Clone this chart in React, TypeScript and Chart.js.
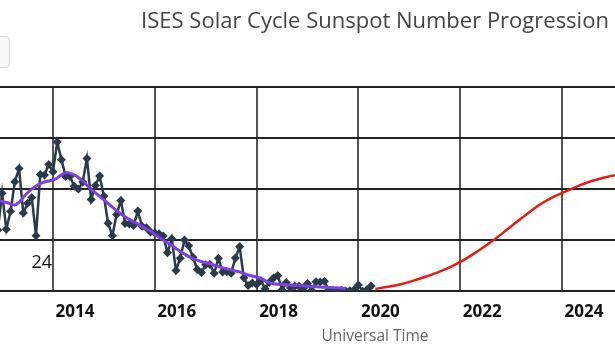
import React, { useEffect, useRef } from "react";
import { Chart, registerables } from "chart.js";

Chart.register(...registerables);

const TITLE = "ISES Solar Cycle Sunspot Number Progression";
const X_TITLE = "Universal Time";
const CYCLE_LABEL = "24";
const CYCLE_LABEL_AT = { x: 2014, y: 28 };

const tickYears = [2014, 2016, 2018, 2020, 2022, 2024, 2026];
const yTicks = { min: 0, max: 200, step: 50 };
const xRange = { min: 2012.959, max: 2027.694 };

// Monthly observed sunspot number, starting Dec 2012
const observedStart = { year: 2012, month: 11 };
const observedSSN = [
  60,
  96.1, 60.9, 78.3, 107.3, 120.2, 76.7, 86.2, 91.8, 54.5, 114.4, 113.9, 124.2,
  117.0, 146.1, 128.7, 112.5, 112.5, 102.9, 100.2, 106.9, 130.0, 90.0, 103.6, 112.9,
  93.0, 66.7, 54.5, 75.3, 88.8, 66.5, 65.8, 64.4, 78.6, 63.6, 62.2, 58.0,
  57.0, 56.4, 54.1, 37.9, 51.5, 20.5, 32.4, 50.2, 44.6, 33.4, 21.4, 18.5,
  26.1, 26.4, 17.7, 32.3, 18.9, 19.2, 17.8, 32.6, 43.6, 13.2, 5.7, 8.2,
  6.8, 10.7, 2.5, 8.9, 13.1, 15.6, 1.6, 8.7, 3.3, 4.9, 4.9, 3.1,
  7.7, 0.8, 9.4, 9.1, 9.9, 1.2, 0.9, 0.5, 1.1, 0.4, 0.5, 1.5,
  6.2, 0.2, 1.5, 5.2,
];

// Monthly smoothed sunspot number, starting Dec 2012
const smoothedStart = { year: 2012, month: 11 };
const smoothedSSN = [
  89,
  88, 87, 85.5, 84.5, 87, 92, 96.5, 100, 103, 105.5, 107, 108,
  109, 111, 114, 116.4, 115.5, 114, 111.5, 108, 104, 100, 96.5, 93,
  89.5, 86, 82.5, 79, 76, 73, 70.5, 68, 66, 63.5, 61, 59,
  56, 53, 50, 47.5, 45, 42, 39, 36.5, 34, 32, 30.5, 29,
  28, 27, 25.5, 24.5, 23, 22, 21, 20, 19, 17.5, 16, 15,
  14, 12.5, 10.5, 8.5, 7.5, 7, 6.8, 6.5, 6.2, 6, 5.8, 5.5,
  5, 4.8, 4.5, 4.2, 4, 3.8, 3.6, 3.4, 3.2, 3,
];

// Predicted sunspot number, every 3 months starting May 2020
const predictedStart = { year: 2020, month: 4 };
const predictedStepMonths = 3;
const predictedSSN = [
  2.5, 4.5, 7, 10.5, 14.5, 19, 24.5, 31, 39, 47.5, 57, 67, 76.5, 85.5, 92.5, 98,
  103.5, 108, 111.5, 114, 115,
];

const toPoints = (start: { year: number; month: number }, values: number[], step = 1) =>
  values.map((v, i) => ({ x: start.year + (start.month + i * step) / 12, y: v }));

const cycleLabelPlugin = {
  id: "cycleLabel",
  afterDatasetsDraw(chart: any) {
    const { ctx, scales } = chart;
    const px = scales.x.getPixelForValue(CYCLE_LABEL_AT.x);
    const py = scales.y.getPixelForValue(CYCLE_LABEL_AT.y);
    ctx.save();
    ctx.font = "18px 'Open Sans', sans-serif";
    ctx.fillStyle = "#111";
    ctx.textAlign = "right";
    ctx.textBaseline = "middle";
    ctx.fillText(CYCLE_LABEL, px - 1, py);
    ctx.restore();
  },
};

export default function App() {
  const canvasRef = useRef<HTMLCanvasElement | null>(null);

  useEffect(() => {
    if (!canvasRef.current) return;
    const chart = new Chart(canvasRef.current, {
      type: "line",
      data: {
        datasets: [
          {
            label: "Smoothed",
            data: toPoints(smoothedStart, smoothedSSN),
            borderColor: "rgb(125,65,225)",
            borderWidth: 3,
            pointRadius: 0,
            tension: 0.3,
            order: 0,
          },
          {
            label: "Observed",
            data: toPoints(observedStart, observedSSN),
            borderColor: "#2a3a4b",
            backgroundColor: "#2a3a4b",
            borderWidth: 2.5,
            pointStyle: "rectRot",
            pointRadius: 4.5,
            pointBorderWidth: 0,
            tension: 0,
            order: 1,
          },
          {
            label: "Predicted",
            data: toPoints(predictedStart, predictedSSN, predictedStepMonths),
            borderColor: "rgb(228,28,20)",
            borderWidth: 2.5,
            pointRadius: 0,
            cubicInterpolationMode: "monotone",
            order: 0,
          },
        ],
      },
      options: {
        animation: false,
        responsive: false,
        layout: { padding: 0, autoPadding: false },
        plugins: {
          legend: { display: false },
          tooltip: { enabled: false },
          title: {
            display: true,
            text: TITLE,
            color: "#444",
            font: { family: "'Open Sans', sans-serif", size: 22, weight: "normal", lineHeight: 1.2 },
            padding: { top: 9, bottom: 51.6 },
          },
        },
        scales: {
          x: {
            type: "linear",
            min: xRange.min,
            max: xRange.max,
            afterBuildTicks: (scale: any) => {
              scale.ticks = tickYears.map((v) => ({ value: v }));
            },
            ticks: {
              autoSkip: false,
              maxRotation: 0,
              labelOffset: 22,
              padding: 12,
              color: "#111",
              font: { family: "'Open Sans', sans-serif", size: 17, weight: "bold", lineHeight: 1.0 },
              callback: (v: any) => String(v),
            },
            grid: { color: "#555", lineWidth: 2, drawTicks: false },
            border: { display: false },
            title: {
              display: true,
              text: X_TITLE,
              color: "#666",
              font: { family: "'Open Sans', sans-serif", size: 15.5, lineHeight: 0.6 },
              padding: { top: 0, bottom: 10.35 },
            },
          },
          y: {
            min: yTicks.min,
            max: yTicks.max,
            ticks: { display: false, stepSize: yTicks.step },
            grid: { color: "#222", lineWidth: 2, drawTicks: false },
            border: { display: false },
          },
        },
      },
      plugins: [cycleLabelPlugin],
    } as any);
    return () => chart.destroy();
  }, []);

  return (
    <div
      style={{
        position: "fixed",
        left: 0,
        top: 0,
        width: 615,
        height: 352,
        overflow: "hidden",
        background: "#fff",
      }}
    >
      <canvas ref={canvasRef} width={750} height={352} style={{ position: "absolute", left: 0, top: 0 }} />
      <div
        style={{
          position: "absolute",
          left: -30,
          top: 36,
          width: 38,
          height: 30,
          border: "1px solid #d4d4d4",
          borderRadius: 4,
          background: "#f8f8f8",
        }}
      />
    </div>
  );
}
